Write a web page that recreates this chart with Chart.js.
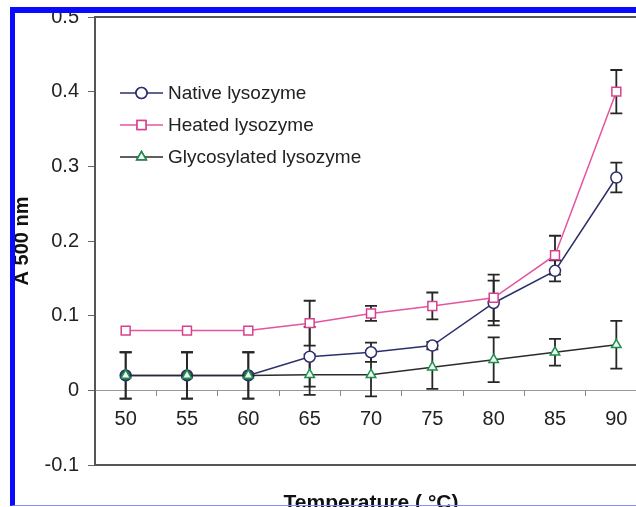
<!DOCTYPE html>
<html>
<head>
<meta charset="utf-8">
<script src="https://cdn.jsdelivr.net/npm/chart.js@4.4.1/dist/chart.umd.min.js"></script>
<style>
  html, body { margin: 0; padding: 0; background: #fff; overflow: hidden; }
  #wrap { position: relative; width: 636px; height: 507px; overflow: hidden; }
  #chart { position: absolute; left: 0; top: 0; }
  #frame {
    position: absolute; left: 10px; top: 7px; width: 700px; height: 492px;
    border-left: 5px solid #0a0aff; border-top: 6px solid #0a0aff; border-bottom: 1px solid #8c8cff;
    pointer-events: none;
  }
</style>
</head>
<body>
<div id="wrap">
  <canvas id="chart" width="680" height="530"></canvas>
  <div id="frame"></div>
</div>
<script>
// temperature categories
var temps = ['50', '55', '60', '65', '70', '75', '80', '85', '90'];

// absorbance at 500 nm
var nativeVals = [0.02, 0.02, 0.02, 0.045, 0.051, 0.06, 0.117, 0.16, 0.285];
var heatedVals = [0.08, 0.08, 0.08, 0.09, 0.103, 0.113, 0.124, 0.181, 0.4];
var glycoVals = [0.02, 0.02, 0.02, 0.021, 0.021, 0.031, 0.041, 0.051, 0.061];

// error bars (+/-)
var nativeErr = [0.031, 0.031, 0.031, 0.04, 0.013, 0.005, 0.03, 0.014, 0.02];
var heatedErr = [0, 0, 0, 0.03, 0.01, 0.018, 0.031, 0.026, 0.029];
var glycoErr = [0.031, 0.031, 0.031, 0.027, 0.029, 0.029, 0.03, 0.018, 0.032];

var FONT = "'Liberation Sans', Arial, sans-serif";

// plot frame
const boxPlugin = {
    id: 'box',
    beforeDatasetsDraw(chart) {
        const a = chart.chartArea;
        const ctx = chart.ctx;
        ctx.save();
        ctx.strokeStyle = '#555';
        ctx.lineWidth = 2;
        ctx.strokeRect(a.left, a.top, a.right - a.left, a.bottom - a.top);
        ctx.restore();
    }
};

// error bars, drawn under the markers
const errorBarPlugin = {
    id: 'errorBars',
    beforeDatasetsDraw(chart) {
        const ctx = chart.ctx;
        const yScale = chart.scales.y;
        ctx.save();
        ctx.strokeStyle = '#262626';
        ctx.lineWidth = 1.8;
        chart.data.datasets.forEach(function (ds, i) {
            const meta = chart.getDatasetMeta(i);
            meta.data.forEach(function (pt, j) {
                const e = ds.errors[j];
                if (!e) return;
                const x = pt.x;
                const yTop = yScale.getPixelForValue(ds.data[j] + e);
                const yBot = yScale.getPixelForValue(ds.data[j] - e);
                ctx.beginPath();
                ctx.moveTo(x, yTop);
                ctx.lineTo(x, yBot);
                ctx.moveTo(x - 6, yTop);
                ctx.lineTo(x + 6, yTop);
                ctx.moveTo(x - 6, yBot);
                ctx.lineTo(x + 6, yBot);
                ctx.stroke();
            });
        });
        ctx.restore();
    }
};

// excel-style legend inside the plot
const legendPlugin = {
    id: 'insideLegend',
    afterDatasetsDraw(chart, args, opts) {
        const ctx = chart.ctx;
        const a = chart.chartArea;
        const x0 = a.left + opts.dx;
        let y = a.top + opts.dy;
        ctx.save();
        chart.data.datasets.forEach(function (ds) {
            ctx.strokeStyle = ds.borderColor;
            ctx.lineWidth = 1.5;
            ctx.beginPath();
            ctx.moveTo(x0, y);
            ctx.lineTo(x0 + 43, y);
            ctx.stroke();
            Chart.helpers.drawPoint(ctx, {
                pointStyle: ds.pointStyle,
                radius: ds.pointRadius,
                borderWidth: ds.pointBorderWidth,
                rotation: 0
            }, x0 + 21.5, y);
            ctx.fillStyle = '#fff';
            ctx.strokeStyle = ds.pointBorderColor;
            ctx.lineWidth = ds.pointBorderWidth;
            ctx.fill();
            ctx.stroke();
            ctx.fillStyle = '#222';
            ctx.font = '19px ' + FONT;
            ctx.textBaseline = 'middle';
            ctx.fillText(ds.label, x0 + 48, y + 1);
            y += opts.rowGap;
        });
        ctx.restore();
    }
};

var ctx = document.getElementById('chart').getContext('2d');

const config = {
    type: 'line',
    data: {
        labels: temps,
        datasets: [{
            label: 'Native lysozyme',
            data: nativeVals,
            errors: nativeErr,
            borderColor: '#2c2f6b',
            borderWidth: 1.5,
            pointStyle: 'circle',
            pointRadius: 5.5,
            pointBorderWidth: 1.5,
            pointBorderColor: '#2c2f6b',
            pointBackgroundColor: ['#2f5e58', '#2f5e58', '#2f5e58', '#fff', '#fff', '#fff', '#fff', '#fff', '#fff'],
            order: 2
        }, {
            label: 'Heated lysozyme',
            data: heatedVals,
            errors: heatedErr,
            borderColor: '#e4549f',
            borderWidth: 1.5,
            pointStyle: 'rect',
            pointRadius: 6.3,
            pointBorderWidth: 1.5,
            pointBorderColor: '#d8408f',
            pointBackgroundColor: '#fff',
            order: 1
        }, {
            label: 'Glycosylated lysozyme',
            data: glycoVals,
            errors: glycoErr,
            borderColor: '#2b2b2b',
            borderWidth: 1.5,
            pointStyle: 'triangle',
            pointRadius: 5.5,
            pointBorderWidth: 1.5,
            pointBorderColor: '#1f8f4e',
            pointBackgroundColor: '#eef8ef',
            order: 0
        }]
    },
    options: {
        responsive: false,
        animation: false,
        events: [],
        layout: {
            padding: { left: 6, top: 17, right: 33, bottom: 0 }
        },
        plugins: {
            legend: { display: false },
            tooltip: { enabled: false },
            insideLegend: { dx: 25, dy: 76, rowGap: 32 }
        },
        scales: {
            x: {
                type: 'category',
                position: { y: 0 },
                offset: true,
                grid: {
                    display: true,
                    offset: true,
                    drawOnChartArea: false,
                    drawTicks: true,
                    tickLength: 5,
                    color: '#888'
                },
                border: { display: true, color: '#999', width: 1 },
                ticks: {
                    color: '#222',
                    font: { family: FONT, size: 20 },
                    padding: 12,
                    maxRotation: 0
                }
            },
            x2: {
                type: 'category',
                position: 'bottom',
                offset: true,
                grid: { display: false },
                border: { display: false },
                ticks: { display: false },
                title: {
                    display: true,
                    text: 'Temperature ( °C)',
                    color: '#111',
                    font: { family: FONT, size: 21, weight: 'bold' },
                    padding: { top: 0, bottom: 14 }
                },
                afterFit: function (scale) { scale.height = 65; }
            },
            y: {
                min: -0.1,
                max: 0.5,
                grid: {
                    display: true,
                    drawOnChartArea: false,
                    drawTicks: true,
                    tickLength: 7,
                    color: '#666'
                },
                border: { display: false },
                ticks: {
                    stepSize: 0.1,
                    padding: 9,
                    color: '#222',
                    font: { family: FONT, size: 20 },
                    callback: function (v) { return String(Math.round(v * 10) / 10); }
                },
                title: {
                    display: true,
                    text: 'A 500 nm',
                    color: '#111',
                    font: { family: FONT, size: 20, weight: 'bold' },
                    padding: { top: 4, bottom: 0 }
                },
                afterFit: function (scale) {
                    scale.width = 89;
                    scale.paddingTop = 0;
                    scale.paddingBottom = 0;
                }
            }
        }
    },
    plugins: [boxPlugin, errorBarPlugin, legendPlugin]
};

var lysoChart = new Chart(ctx, config);
</script>
</body>
</html>
